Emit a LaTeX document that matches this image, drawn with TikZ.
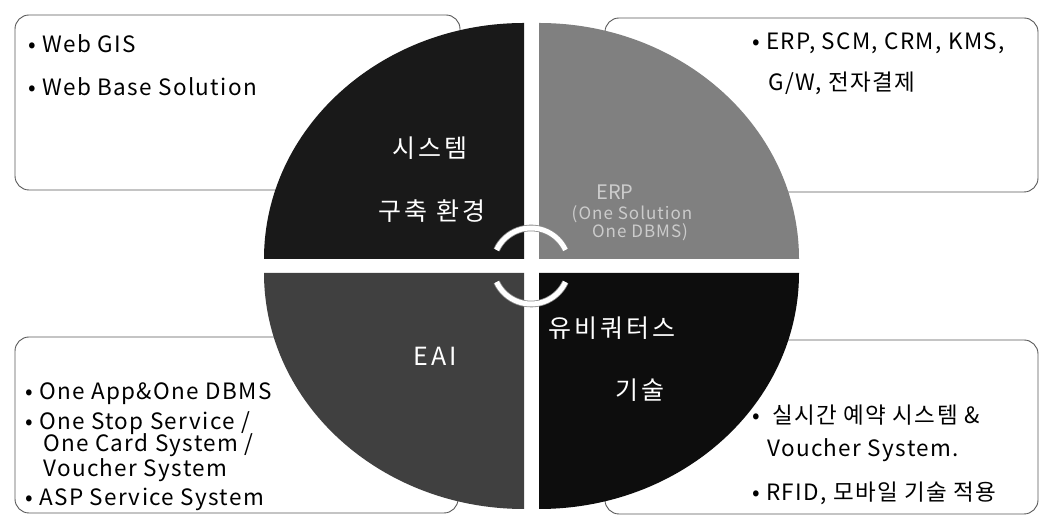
\documentclass[tikz,border=0pt]{standalone}
\usepackage{fontspec}
\setmainfont{Noto Sans CJK KR}
\usetikzlibrary{positioning}
\definecolor{qdark}{gray}{0.10}
\definecolor{qgrey}{gray}{0.50}
\definecolor{qmid}{gray}{0.25}
\definecolor{qblack}{gray}{0.05}
\tikzset{
infobox/.style={draw=black!65, line width=0.9pt, rounded corners=14pt, fill=white},
item/.style={anchor=west, inner sep=0pt, font=\fontsize{22.5}{27}\selectfont\addfontfeature{LetterSpace=6}},
qlabel/.style={text=white, inner sep=0pt, font=\fontsize{25}{30}\selectfont\addfontfeature{LetterSpace=12}},
faint/.style={qlabel, text=black!20, font=\fontsize{17}{20}\selectfont\addfontfeature{LetterSpace=6}},
turn/.style={draw=black!45, double=white, double distance=5pt, line width=0.8pt}
}

\begin{document}
\begin{tikzpicture}[x=1pt,y=1pt]
\useasboundingbox (0,0) rectangle (1042,516);

% boxes behind the circle
\draw[infobox] (15,326) rectangle (460,501);
\draw[infobox] (605,324) rectangle (1038,498);
\draw[infobox] (15,3) rectangle (458,179);
\draw[infobox] (605,2) rectangle (1038,176);

% the four quarters
\fill[qdark] (524,257) -- ++(-260,0) arc[start angle=180, end angle=90, x radius=260, y radius=236] -- cycle;
\fill[qgrey] (539,257) -- ++(0,236) arc[start angle=90, end angle=0, x radius=260, y radius=236] -- cycle;
\fill[qmid] (524,243) -- ++(-260,0) arc[start angle=180, end angle=270, x radius=260, y radius=236] -- cycle;
\fill[qblack] (539,243) -- ++(260,0) arc[start angle=0, end angle=-90, x radius=260, y radius=236] -- cycle;

% turning arcs in the middle
\draw[turn] (531,250) ++(155:38) arc[start angle=155, end angle=25, radius=38];
\draw[turn] (531,250) ++(205:38) arc[start angle=205, end angle=335, radius=38];

% quarter labels
\node[qlabel] (sys) at (430,368) {시스템};
\node[qlabel] (env) at (432,305) {구축 환경};
\node[faint, font=\fontsize{20}{24}\selectfont] (erp) at (615,324) {ERP};
\node[faint] (sol) at (632,302) {(One Solution};
\node[faint] (dbms) at (640,284) {One DBMS)};
\node[qlabel] (eai) at (435,160) {EAI};
\node[qlabel] (ubi) at (612,188) {유비쿼터스};
\node[qlabel] (tech) at (640,126) {기술};

% top left
\node[item] (gis) at (28,472) {• Web GIS};
\node[item] (base) at (28,429) {• Web Base Solution};
% top right
\node[item] (erpl) at (752,473) {• ERP, SCM, CRM, KMS,};
\node[item] (gw) at (768,433) {G/W, 전자결제};
% bottom left
\node[item] (app) at (25,122) {• One App\&One DBMS};
\node[item] (stop) at (25,93) {• One Stop Service /};
\node[item] (card) at (43,71) {One Card System /};
\node[item] (vou) at (43,46) {Voucher System};
\node[item] (asp) at (25,17) {• ASP Service System};
% bottom right
\node[item] (rsv) at (752,101) {•\ \ 실시간 예약 시스템 \&};
\node[item] (vou2) at (767,66) {Voucher System.};
\node[item] (rfid) at (752,23) {• RFID, 모바일 기술 적용};
\end{tikzpicture}
\end{document}
